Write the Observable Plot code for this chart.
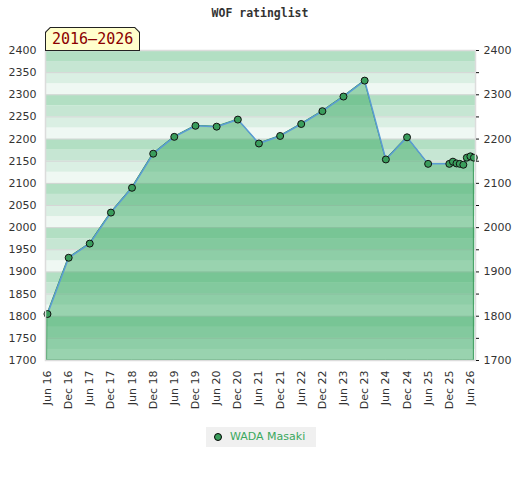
<!DOCTYPE html>
<html>
<head>
<meta charset="utf-8">
<script src="https://cdn.jsdelivr.net/npm/d3@7"></script>
<script src="https://cdn.jsdelivr.net/npm/@observablehq/plot@0.6"></script>
<style>
  html, body { margin: 0; padding: 0; background: #fff; }
  #wrap { position: relative; width: 520px; height: 480px; overflow: hidden; }
  #title { position: absolute; left: 0; top: 6px; width: 520px; text-align: center;
    font: bold 11.5px "DejaVu Sans Mono", monospace; color: #333; }
  #chart { position: absolute; left: 0; top: 0; }
  #tag { position: absolute; left: 45px; top: 27px; width: 95px; height: 24px; background: #222;
    clip-path: polygon(5px 0, calc(100% - 5px) 0, 100% 5px, 100% 100%, 0 100%, 0 5px); z-index: 2; }
  #tag > div { position: absolute; left: 1px; top: 1px; right: 1px; bottom: 1px; background: #ffffcc;
    clip-path: polygon(4.5px 0, calc(100% - 4.5px) 0, 100% 4.5px, 100% 100%, 0 100%, 0 4.5px);
    font: 15px "DejaVu Sans Mono", monospace; color: #8b0000; line-height: 22px; padding-left: 6px; box-sizing: border-box; }
  #legend { position: absolute; left: 206px; top: 427px; width: 110px; height: 20px; background: #f0f0f0;
    font: 11px "DejaVu Sans", sans-serif; color: #3aa85e; line-height: 20px; box-sizing: border-box; padding-left: 8px; }
  #legend .mk { display: inline-block; width: 6px; height: 6px; border-radius: 50%; background: #3a9d5c;
    border: 1px solid #000; margin-right: 8px; vertical-align: -0.5px; }
</style>
</head>
<body>
<div id="wrap">
  <div id="chart"></div>
  <div id="title">WOF ratinglist</div>
  <div id="tag"><div>2016–2026</div></div>
  <div id="legend"><span class="mk"></span>WADA Masaki</div>
</div>
<script>
const player = "WADA Masaki";
const dates = ["2016-06","2016-12","2017-06","2017-12","2018-06","2018-12","2019-06","2019-12",
  "2020-06","2020-12","2021-06","2021-12","2022-06","2022-12","2023-06","2023-12","2024-06","2024-12",
  "2025-06","2025-12","2026-01","2026-02","2026-03","2026-04","2026-05","2026-06","2026-07"];
const ratings = [1805,1932,1964,2034,2090,2167,2205,2230,2228,2244,2190,2207,2234,2263,2296,2332,2154,2204,
  2144,2144,2149,2145,2144,2142,2158,2161,2158];
const tickDates = ["2016-06","2016-12","2017-06","2017-12","2018-06","2018-12","2019-06","2019-12",
  "2020-06","2020-12","2021-06","2021-12","2022-06","2022-12","2023-06","2023-12","2024-06","2024-12",
  "2025-06","2025-12","2026-06"];
const yMin = 1700, yMax = 2400;
const xStart = new Date("2016-05-15"), xEnd = new Date("2026-07-15");
const stripeColors = ["#b2dfc3", "#c6e6d3", "#daefe3", "#eff8f3"];

const data = dates.map((d, i) => ({date: new Date(d + "-01"), rating: ratings[i]}));
const bands = d3.range(yMin, yMax, 25);

const chart = Plot.plot({
  width: 520, height: 420,
  marginLeft: 45, marginRight: 45, marginTop: 50, marginBottom: 60,
  style: {fontFamily: "DejaVu Sans, sans-serif", fontSize: "11px", color: "#333", background: "transparent"},
  x: {type: "utc", domain: [xStart, xEnd]},
  y: {domain: [yMin, yMax]},
  color: {type: "identity"},
  marks: [
    Plot.rect(bands, {x1: () => xStart, x2: () => xEnd, y1: d => d, y2: d => d + 25,
      fill: d => stripeColors[3 - (((d - yMin) / 25) % 4)]}),
    Plot.ruleY(d3.range(yMin, yMax + 1, 50), {stroke: "#d6d6d6", strokeWidth: 1}),
    Plot.area(data, {x1: "date", y1: () => yMin, y2: "rating", fill: "#31a65d", fillOpacity: 0.45,
      stroke: "#3a9a5a", strokeWidth: 1}),
    Plot.line(data, {x: "date", y: "rating", stroke: "#5b9bd5", strokeWidth: 1.5}),
    Plot.dot(data, {x: "date", y: "rating", r: 3.5, fill: "#3a9d5c", stroke: "#111", strokeWidth: 1}),
    Plot.frame({stroke: "#dcdcdc", strokeWidth: 1.5}),
    Plot.axisY({anchor: "left", ticks: d3.range(yMin, yMax + 1, 50), tickFormat: d => String(d),
      tickSize: 0, tickPadding: 9, label: null}),
    Plot.axisY({anchor: "right", ticks: d3.range(yMin, yMax + 1, 50), tickFormat: d => d % 100 === 0 ? String(d) : "",
      tickSize: 3, tickPadding: 5, label: null, stroke: "#111"}),
    Plot.axisX({ticks: tickDates.map(d => new Date(d + "-01")), tickFormat: d3.utcFormat("%b %y"),
      tickRotate: -90, tickSize: 0, tickPadding: 10, label: null})
  ]
});
document.getElementById("chart").appendChild(chart);
</script>
</body>
</html>
